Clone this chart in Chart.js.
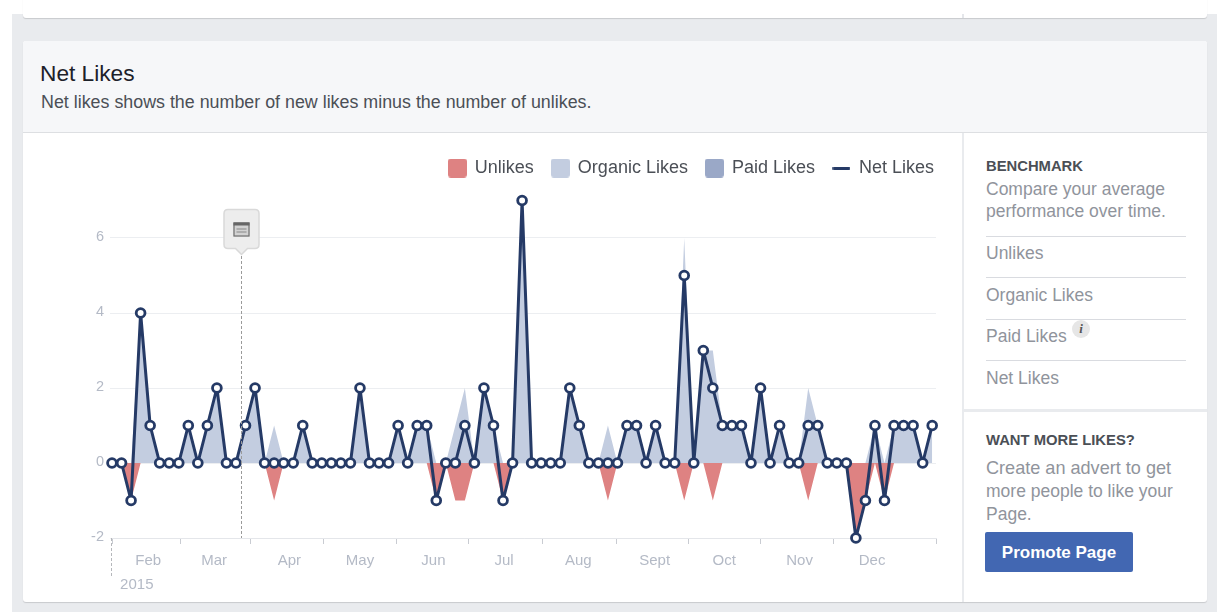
<!DOCTYPE html>
<html><head><meta charset="utf-8">
<script src="https://cdn.jsdelivr.net/npm/chart.js@4/dist/chart.umd.min.js"></script>
<style>
html,body{margin:0;padding:0;background:#fff;}
body{width:1217px;height:612px;position:relative;overflow:hidden;font-family:"Liberation Sans",Arial,sans-serif;}
#wrap{position:absolute;left:0;top:0;width:1217px;height:612px;filter:blur(.35px);}
#page{position:absolute;left:12px;top:14px;right:0;bottom:0;background:#e9ebee;}
.card{position:absolute;background:#fff;border-radius:3px;box-shadow:0 1px 1px rgba(0,0,0,.14);}
#topcard{left:23px;top:-10px;width:1184px;height:28px;}
#topline{position:absolute;left:962px;top:14px;width:2px;height:4px;background:#e4e6ea;}
#main{left:23px;top:41px;width:1184px;height:561px;}
#head{position:absolute;left:23px;top:41px;width:1184px;height:91px;background:#f6f7f9;border-bottom:1px solid #dddfe2;border-radius:3px 3px 0 0;}
.t{position:absolute;white-space:nowrap;}
#side{position:absolute;left:962px;top:133px;width:2px;height:469px;background:#e9ebee;}
.rule{position:absolute;left:986px;width:200px;height:1px;background:#d9dbe0;}
canvas#c{position:absolute;left:24px;top:134px;}
.s{font-size:17.5px;color:#90949c;left:986px;}
.b{font-size:14.8px;font-weight:bold;color:#4b4f56;left:986px;}
</style></head><body>
<div id="wrap">
<div id="page"></div>
<div class="card" id="topcard"></div><div id="topline"></div>
<div class="card" id="main"></div>
<div id="head"></div>
<div class="t" style="left:40px;top:60px;font-size:22.7px;color:#1d2129;">Net Likes</div>
<div class="t" style="left:41px;top:92px;font-size:17.85px;color:#4b4f56;">Net likes shows the number of new likes minus the number of unlikes.</div>
<div id="side"></div>
<canvas id="c" width="938" height="466"></canvas>
<div class="t b" style="top:158px;">BENCHMARK</div>
<div class="t s" style="top:179px;">Compare your average</div>
<div class="t s" style="top:201px;">performance over time.</div>
<div class="rule" style="top:236px"></div>
<div class="t s" style="top:243px;">Unlikes</div>
<div class="rule" style="top:277px"></div>
<div class="t s" style="top:285px;">Organic Likes</div>
<div class="rule" style="top:319px"></div>
<div class="t s" style="top:326px;">Paid Likes</div>
<div class="t" style="left:1072px;top:320px;width:18px;height:18px;border-radius:9px;background:#e6e6e6;text-align:center;font:italic bold 13px 'Liberation Serif',serif;line-height:18px;color:#555;">i</div>
<div class="rule" style="top:360px"></div>
<div class="t s" style="top:368px;">Net Likes</div>
<div style="position:absolute;left:964px;top:409px;width:243px;height:3px;background:#e9ebee;"></div>
<div class="t b" style="top:432px;">WANT MORE LIKES?</div>
<div class="t s" style="top:458px;font-size:18.1px;">Create an advert to get</div>
<div class="t s" style="top:481px;">more people to like your</div>
<div class="t s" style="top:504px;">Page.</div>
<div class="t" style="left:985px;top:532px;width:148px;height:40px;line-height:41px;background:#4267b2;border-radius:2px;color:#fff;font-weight:bold;font-size:17px;text-align:center;">Promote Page</div>
</div>
<script>
const netLikes = [0,0,-1,4,1,0,0,0,1,0,1,2,0,0,1,2,0,0,0,0,1,0,0,0,0,0,2,0,0,0,1,0,1,1,-1,0,0,1,0,2,1,-1,0,7,0,0,0,0,2,1,0,0,0,0,1,1,0,1,0,0,5,0,3,2,1,1,1,0,2,0,1,0,0,1,1,0,0,0,-2,-1,1,-1,1,1,1,0,1];
const organicLikes = [0,0,0,4,1,0,0,0,1,0,1,2,0,0,1,2,0,1,0,0,1,0,0,0,0,0,2,0,0,0,1,0,1,1,0,0,1,2,0,2,1,0,0,7,0,0,0,0,2,1,0,0,1,0,1,1,0,1,0,0,6,0,3,3,1,1,1,0,2,0,1,0,0,2,1,0,0,0,0,0,1,0,1,1,1,0,1];
const unlikes = [0,0,-1,0,0,0,0,0,0,0,0,0,0,0,0,0,0,-1,0,0,0,0,0,0,0,0,0,0,0,0,0,0,0,0,-1,0,-1,-1,0,0,0,-1,0,0,0,0,0,0,0,0,0,0,-1,0,0,0,0,0,0,0,-1,0,0,-1,0,0,0,0,0,0,0,0,0,-1,0,0,0,0,-2,-1,0,-1,0,0,0,0,0];
const paidLikes = [0,0,0,0,0,0,0,0,0,0,0,0,0,0,0,0,0,0,0,0,0,0,0,0,0,0,0,0,0,0,0,0,0,0,0,0,0,0,0,0,0,0,0,0,0,0,0,0,0,0,0,0,0,0,0,0,0,0,0,0,0,0,0,0,0,0,0,0,0,0,0,0,0,0,0,0,0,0,0,0,0,0,0,0,0,0,0];
const monthLabels = ['Feb','Mar','Apr','May','Jun','Jul','Aug','Sept','Oct','Nov','Dec'];
const monthLabelAt = [3.8,10.7,18.6,26,33.7,41.1,48.9,56.9,64.2,72.1,79.7];
const monthTickAt = [0,7.16,14.55,22.2,29.8,37.4,45.1,52.9,60.4,68,75.7,86.4];
const yearLabel = '2015', yearAt = 2.6, markerAt = 13.48;

function swatch(color,w,h,r){
  const k=document.createElement('canvas');k.width=w;k.height=h;
  const g=k.getContext('2d');g.fillStyle=color;g.beginPath();g.roundRect(0,0,w,h,r);g.fill();return k;
}
const colors={un:'#de8282',org:'#c3cde0',paid:'#9aa8c7',net:'#253a66'};
const styles={Unlikes:swatch(colors.un,19,19,3),'Organic Likes':swatch(colors.org,19,19,3),'Paid Likes':swatch(colors.paid,19,19,3),'Net Likes':swatch(colors.net,18,3,1.5)};
const fam='"Liberation Sans",Arial,sans-serif';

const extras={id:'extras',
  afterLayout(ch){ch.legend.left+=16;ch.legend.right+=16;},
  afterDatasetsDraw(ch){
    const {ctx,scales:{x,y}}=ch;
    const b=y.getPixelForValue(-2);
    ctx.save();
    ctx.strokeStyle='#b5b7bb';ctx.lineWidth=1;ctx.setLineDash([3,2]);
    const x0=Math.round(x.getPixelForValue(0))-.5;
    ctx.beginPath();ctx.moveTo(x0,b);ctx.lineTo(x0,b+40);ctx.stroke();
    const m=Math.round(x.getPixelForValue(markerAt))+.5;
    ctx.strokeStyle='#9a9a9a';
    ctx.beginPath();ctx.moveTo(m,122);ctx.lineTo(m,b);ctx.stroke();
    ctx.setLineDash([]);
    const L=m-17.5,T=75.5,W=35,H=39;
    ctx.fillStyle='#ededed';ctx.strokeStyle='#d9d9d9';ctx.lineWidth=1.5;
    ctx.beginPath();ctx.moveTo(L+4,T);ctx.lineTo(L+W-4,T);ctx.quadraticCurveTo(L+W,T,L+W,T+4);ctx.lineTo(L+W,T+H-4);ctx.quadraticCurveTo(L+W,T+H,L+W-4,T+H);
    ctx.lineTo(m+6,T+H);ctx.lineTo(m,T+H+6);ctx.lineTo(m-6,T+H);ctx.lineTo(L+4,T+H);ctx.quadraticCurveTo(L,T+H,L,T+H-4);ctx.lineTo(L,T+4);ctx.quadraticCurveTo(L,T,L+4,T);ctx.closePath();ctx.fill();ctx.stroke();
    ctx.fillStyle='#d2d2d2';ctx.fillRect(m-8,T+13,16,14);
    ctx.strokeStyle='#707070';ctx.lineWidth=1.2;ctx.strokeRect(m-7.5,T+13.5,15,13);
    ctx.fillStyle='#666';ctx.fillRect(m-8,T+13,16,3);
    ctx.fillStyle='#888';ctx.fillRect(m-5,T+19,10,1);ctx.fillRect(m-5,T+22,10,1);
    ctx.restore();
  }};

new Chart(document.getElementById('c'),{
  type:'line',
  data:{datasets:[
    {label:'Unlikes',data:unlikes.map((v,i)=>({x:i,y:v})),fill:'origin',backgroundColor:colors.un,borderWidth:0,pointRadius:0,tension:0,order:3},
    {label:'Organic Likes',data:organicLikes.map((v,i)=>({x:i,y:v})),fill:'origin',backgroundColor:colors.org,borderWidth:0,pointRadius:0,tension:0,order:2},
    {label:'Paid Likes',data:paidLikes.map((v,i)=>({x:i,y:v})),fill:'origin',backgroundColor:colors.paid,borderWidth:0,pointRadius:0,tension:0,order:1},
    {label:'Net Likes',data:netLikes.map((v,i)=>({x:i,y:v})),fill:false,borderColor:colors.net,borderWidth:3,borderJoinStyle:'round',pointRadius:4.4,pointBorderWidth:2.8,pointBackgroundColor:'#fff',pointBorderColor:colors.net,tension:0,order:0,clip:false}
  ]},
  options:{
    responsive:false,animation:false,
    layout:{padding:{left:62,right:26,top:7,bottom:0}},
    plugins:{
      tooltip:{enabled:false},
      legend:{display:true,position:'top',align:'end',
        labels:{usePointStyle:true,pointStyleWidth:17,font:{family:fam,size:18},color:'#4b4f56',padding:18,
          generateLabels(ch){
            return ch.data.datasets.map((d,i)=>({text:d.label,pointStyle:styles[d.label],fillStyle:'transparent',strokeStyle:'transparent',lineWidth:0,fontColor:'#4b4f56',datasetIndex:i}));
          }}}
    },
    scales:{
      x:{type:'linear',min:0,max:86.4,border:{color:'#e4e6ea',width:1},
        afterBuildTicks(s){
          s.ticks=[...monthTickAt.map(v=>({value:v})),...monthLabelAt.map(v=>({value:v})),{value:yearAt}].sort((a,b)=>a.value-b.value);
        },
        afterFit(s){s.height=62;},
        grid:{drawOnChartArea:false,drawTicks:true,tickLength:6,
          tickColor(c){return monthTickAt.includes(c.tick&&c.tick.value)?'#c9ccd2':'rgba(0,0,0,0)';}},
        ticks:{autoSkip:false,maxRotation:0,minRotation:0,padding:5,color:'#b4bac6',font:{family:fam,size:15,lineHeight:1.6},
          callback(v){const i=monthLabelAt.indexOf(v);if(i>=0)return monthLabels[i];if(v===yearAt)return ['',yearLabel];return '';}}
      },
      y:{type:'linear',min:-2,max:7.36,border:{display:false},
        afterFit(s){s.width=26;},
        grid:{color:'#eceef1',lineWidth:1,tickLength:2,tickColor:'#eceef1'},
        ticks:{stepSize:2,includeBounds:false,padding:6,labelOffset:-1.5,color:'#b4bac6',font:{family:fam,size:14.5},callback(v){return v;}}
      }
    }
  },
  plugins:[extras]
});
</script>
</body></html>
